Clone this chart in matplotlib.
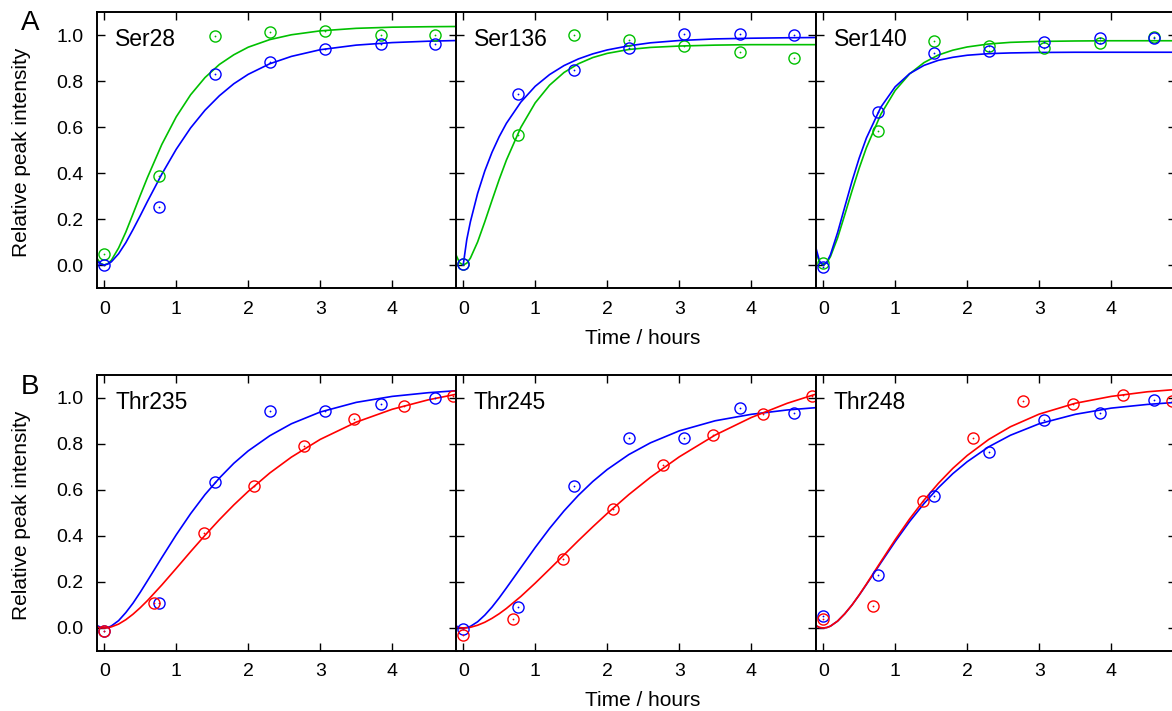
import numpy as np
import matplotlib
matplotlib.use("Agg")
import matplotlib.pyplot as plt

plt.rcParams['font.family'] = ['Liberation Sans', 'DejaVu Sans']

# sampling times (hours)
t_ser = [0, 0.767, 1.535, 2.30, 3.07, 3.84, 4.60]
t_thr_blue = [0, 0.767, 1.535, 2.30, 3.07, 3.84, 4.60]
t_thr_red = [0, 0.693, 1.386, 2.079, 2.772, 3.465, 4.158, 4.851]

# measured points
ser28_green = [0.046, 0.387, 0.997, 1.013, 1.016, 1.000, 1.001]
ser28_blue = [0.000, 0.251, 0.832, 0.883, 0.938, 0.959, 0.962]
ser136_green = [0.005, 0.564, 1.000, 0.977, 0.952, 0.925, 0.900]
ser136_blue = [0.004, 0.742, 0.846, 0.942, 1.003, 1.003, 0.999]
ser140_green = [0.007, 0.584, 0.975, 0.954, 0.942, 0.964, 0.993]
ser140_blue = [-0.007, 0.664, 0.923, 0.932, 0.971, 0.986, 0.986]
thr235_blue = [-0.013, 0.110, 0.633, 0.945, 0.942, 0.975, 0.999]
thr235_red = [-0.013, 0.109, 0.412, 0.616, 0.791, 0.909, 0.966, 1.010]
thr245_blue = [-0.003, 0.090, 0.619, 0.825, 0.826, 0.957, 0.933]
thr245_red = [-0.029, 0.039, 0.299, 0.519, 0.710, 0.841, 0.932, 1.007]
thr248_blue = [0.051, 0.232, 0.575, 0.767, 0.906, 0.936, 0.993]
thr248_red = [0.038, 0.097, 0.552, 0.828, 0.987, 0.972, 1.013, 0.985]

# fitted curves
fit_t = [-0.1, -0.05, 0, 0.05, 0.1, 0.2, 0.3, 0.4, 0.5, 0.6, 0.8, 1.0, 1.2, 1.4,
         1.6, 1.8, 2.0, 2.3, 2.6, 3.0, 3.5, 4.0, 4.5, 4.9]
fit_ser28_green = [0.029, 0.007, 0, 0.006, 0.021, 0.074, 0.143, 0.222, 0.302, 0.380, 0.524, 0.644,
                   0.740, 0.815, 0.872, 0.914, 0.947, 0.980, 1.001, 1.018, 1.029, 1.034, 1.036, 1.037]
fit_ser28_blue = [0.018, 0.004, 0, 0.004, 0.014, 0.049, 0.097, 0.154, 0.214, 0.276, 0.395, 0.503,
                  0.596, 0.673, 0.736, 0.788, 0.829, 0.875, 0.907, 0.936, 0.956, 0.967, 0.973, 0.976]
fit_ser136_green = [0.044, 0.010, 0, 0.008, 0.030, 0.100, 0.188, 0.281, 0.372, 0.456, 0.598, 0.705,
                    0.782, 0.837, 0.875, 0.902, 0.920, 0.937, 0.946, 0.952, 0.956, 0.958, 0.958, 0.958]
fit_ser136_blue = [np.nan, np.nan, 0, 0.111, 0.188, 0.311, 0.409, 0.490, 0.558, 0.616, 0.708, 0.777,
                   0.828, 0.867, 0.896, 0.918, 0.935, 0.953, 0.966, 0.976, 0.983, 0.986, 0.988, 0.989]
fit_ser140_green = [0.055, 0.012, 0, 0.010, 0.036, 0.118, 0.219, 0.322, 0.421, 0.510, 0.655, 0.759,
                    0.831, 0.880, 0.913, 0.934, 0.948, 0.961, 0.968, 0.972, 0.974, 0.975, 0.975, 0.975]
fit_ser140_blue = [0.073, 0.016, 0, 0.012, 0.044, 0.141, 0.253, 0.364, 0.465, 0.552, 0.686, 0.775,
                   0.832, 0.868, 0.890, 0.903, 0.912, 0.919, 0.922, 0.924, 0.925, 0.925, 0.925, 0.925]
fit_thr235_blue = [0.011, 0.003, 0, 0.002, 0.009, 0.032, 0.067, 0.108, 0.155, 0.205, 0.306, 0.405,
                   0.497, 0.580, 0.652, 0.716, 0.770, 0.836, 0.888, 0.939, 0.981, 1.007, 1.023, 1.032]
fit_thr235_red = [0.005, 0.001, 0, 0.001, 0.005, 0.017, 0.036, 0.060, 0.088, 0.119, 0.187, 0.259,
                  0.332, 0.403, 0.471, 0.535, 0.594, 0.674, 0.743, 0.820, 0.895, 0.951, 0.992, 1.017]
fit_thr245_blue = [0.009, 0.002, 0, 0.002, 0.007, 0.027, 0.056, 0.091, 0.131, 0.174, 0.262, 0.350,
                   0.433, 0.509, 0.577, 0.637, 0.689, 0.754, 0.805, 0.857, 0.901, 0.929, 0.948, 0.958]
fit_thr245_red = [0.003, 0.001, 0, 0.001, 0.003, 0.012, 0.025, 0.042, 0.062, 0.085, 0.137, 0.195,
                  0.256, 0.318, 0.380, 0.440, 0.498, 0.580, 0.655, 0.744, 0.839, 0.915, 0.977, 1.017]
fit_thr248_blue = [0.010, 0.002, 0, 0.002, 0.008, 0.030, 0.062, 0.100, 0.143, 0.189, 0.283, 0.376,
                   0.463, 0.541, 0.610, 0.671, 0.723, 0.788, 0.838, 0.888, 0.929, 0.956, 0.972, 0.981]
fit_thr248_red = [0.010, 0.002, 0, 0.002, 0.008, 0.030, 0.062, 0.100, 0.144, 0.191, 0.288, 0.384,
                  0.474, 0.556, 0.629, 0.694, 0.750, 0.820, 0.875, 0.930, 0.977, 1.007, 1.027, 1.037]

GREEN = '#00c000'
BLUE = '#0000ff'
RED = '#ff0000'

panels = [
    ("Ser28", [(t_ser, ser28_green, fit_ser28_green, GREEN), (t_ser, ser28_blue, fit_ser28_blue, BLUE)]),
    ("Ser136", [(t_ser, ser136_green, fit_ser136_green, GREEN), (t_ser, ser136_blue, fit_ser136_blue, BLUE)]),
    ("Ser140", [(t_ser, ser140_green, fit_ser140_green, GREEN), (t_ser, ser140_blue, fit_ser140_blue, BLUE)]),
    ("Thr235", [(t_thr_blue, thr235_blue, fit_thr235_blue, BLUE), (t_thr_red, thr235_red, fit_thr235_red, RED)]),
    ("Thr245", [(t_thr_blue, thr245_blue, fit_thr245_blue, BLUE), (t_thr_red, thr245_red, fit_thr245_red, RED)]),
    ("Thr248", [(t_thr_blue, thr248_blue, fit_thr248_blue, BLUE), (t_thr_red, thr248_red, fit_thr248_red, RED)]),
]

W, H = 1172, 711
fig = plt.figure(figsize=(W / 100, H / 100), dpi=100)

lefts = [97, 456, 816]
rows = [(12, 288), (375, 651)]  # top, bottom in pixels
pw = 360

for i, (name, series) in enumerate(panels):
    r, c = divmod(i, 3)
    top, bot = rows[r]
    ax = fig.add_axes([lefts[c] / W, (H - bot) / H, pw / W, (bot - top) / H])
    for tx, vals, fit, col in series:
        ax.plot(fit_t, fit, color=col, lw=1.2, zorder=2)
        ax.plot(tx, vals, ls='', marker='o', ms=8, mfc='none', mec=col, mew=1.0,
                clip_on=False, zorder=3)
        ax.plot(tx, vals, ls='', marker='o', ms=1.3, mfc=col, mec='none',
                clip_on=False, zorder=3)
    ax.set_xlim(-0.1, 4.9)
    ax.set_ylim(-0.1, 1.1)
    ax.set_xticks([0, 1, 2, 3, 4])
    ax.set_yticks([0, 0.2, 0.4, 0.6, 0.8, 1.0])
    ax.set_yticklabels([f"{v:.1f}" for v in [0, 0.2, 0.4, 0.6, 0.8, 1.0]])
    ax.tick_params(direction='in', top=True, right=True, length=6, width=1.0,
                   labelsize=14, colors='black')
    ax.tick_params(axis='x', pad=9)
    ax.tick_params(axis='y', pad=9.5)
    if c > 0:
        ax.tick_params(axis='y', labelleft=False)
    for s in ax.spines.values():
        s.set_linewidth(1.4)
    ax.text(0.05, 0.90, name, transform=ax.transAxes, fontsize=16.5, va='center', ha='left')

# axis labels and panel letters
for top, bot in rows:
    fig.text(22 / W, 1 - ((top + bot) / 2 + 2) / H, "Relative peak intensity",
             rotation=90, ha='center', va='center', fontsize=15)
    fig.text(643 / W, 1 - (bot + 50) / H, "Time / hours", ha='center', va='center', fontsize=15)
fig.text(30 / W, 1 - 23 / H, "A", ha='center', va='center', fontsize=20)
fig.text(30 / W, 1 - 387 / H, "B", ha='center', va='center', fontsize=20)

fig.savefig("out.png", dpi=100)
